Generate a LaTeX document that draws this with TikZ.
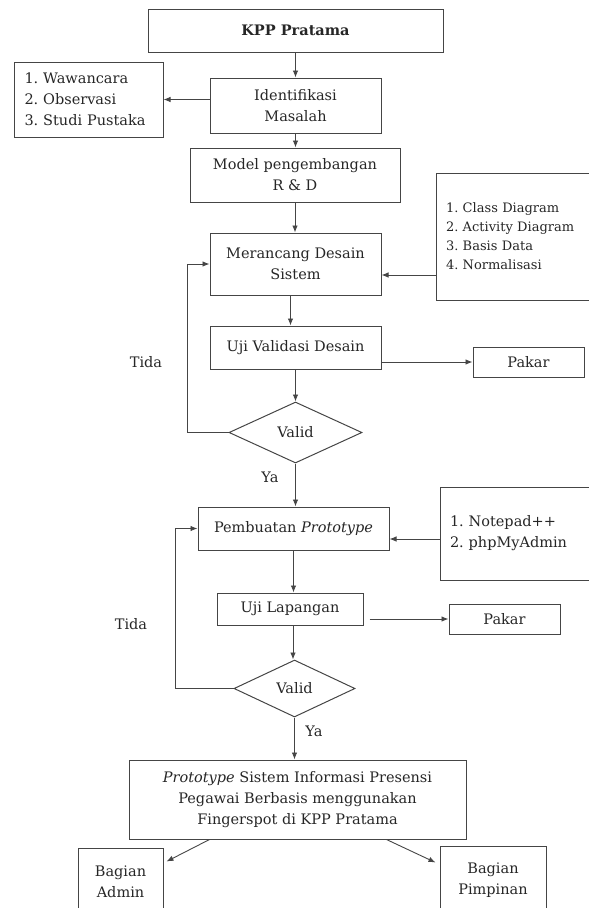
\documentclass[tikz,border=0pt]{standalone}
\usepackage{fontspec}
\setmainfont{DejaVu Serif}
\usetikzlibrary{shapes.geometric,arrows.meta,calc}
\definecolor{ln}{HTML}{454545}
\definecolor{tx}{HTML}{262626}
\frenchspacing
\begin{document}
\begin{tikzpicture}[x=1pt,y=-1pt,
  every node/.style={font=\fontsize{14.5}{21}\selectfont,text=tx},
  bx/.style={draw=ln,line width=1pt,inner sep=0pt,align=center},
  lst/.style={draw=ln,line width=1pt,inner xsep=10pt,inner ysep=0pt,align=left},
  dm/.style={draw=ln,line width=1pt,diamond,inner sep=0pt},
  ar/.style={draw=ln,line width=0.9pt,-{Latex[length=7pt,width=5.5pt]}}]
\useasboundingbox (0,0) rectangle (589,908);
\begin{scope}
\clip (0,0) rectangle (589,908);
\node[bx,minimum width=295pt,minimum height=43pt] (kpp) at (295.5,30.5) {\textbf{KPP Pratama}};
\node[bx,minimum width=171pt,minimum height=55pt] (ident) at (295.5,105.5) {Identifikasi\\Masalah};
\node[lst,minimum width=149pt,minimum height=75pt,text width=128pt] (listl) at (88.5,99.5) {1. Wawancara\\2. Observasi\\3. Studi Pustaka};
\node[bx,minimum width=210pt,minimum height=54pt] (model) at (295,175) {Model pengembangan\\R \& D};
\node[bx,minimum width=171pt,minimum height=62pt] (mer) at (295.5,264) {Merancang Desain\\Sistem};
\node[lst,minimum width=164pt,minimum height=127pt,text width=144pt,font=\fontsize{13}{19}\selectfont] (listr1) at (518,236.5) {1. Class Diagram\\2. Activity Diagram\\3. Basis Data\\4. Normalisasi};
\node[bx,minimum width=171pt,minimum height=43pt] (uji) at (295.5,347.5) {Uji Validasi Desain};
\node[bx,minimum width=111pt,minimum height=30pt] (pakar1) at (528.5,362) {Pakar};
\node[dm,minimum width=133pt,minimum height=61pt] (valid1) at (295.5,432.5) {Valid};
\node[bx,minimum width=191pt,minimum height=43pt] (pemb) at (293.5,528.5) {Pembuatan \textit{Prototype}};
\node[lst,minimum width=160pt,minimum height=93pt,text width=140pt] (listr2) at (520,533.5) {1. Notepad++\\2. phpMyAdmin};
\node[bx,minimum width=146pt,minimum height=32pt] (ujilap) at (290,609) {Uji Lapangan};
\node[bx,minimum width=111pt,minimum height=30pt] (pakar2) at (504.5,619) {Pakar};
\node[dm,minimum width=121pt,minimum height=57pt] (valid2) at (294.5,688.5) {Valid};
\node[bx,minimum width=337pt,minimum height=79pt] (final) at (297.5,799.5) {\textit{Prototype} Sistem Informasi Presensi\\Pegawai Berbasis menggunakan\\Fingerspot di KPP Pratama};
\node[bx,minimum width=85pt,minimum height=67pt] (admin) at (120.5,881.5) {Bagian\\Admin};
\node[bx,minimum width=106pt,minimum height=69pt] (pimp) at (493,880.5) {Bagian\\Pimpinan};
\end{scope}
\node (tida1) at (146,362) {Tida};
\node (tida2) at (131,624) {Tida};
\node (ya1) at (270,477) {Ya};
\node (ya2) at (314,731) {Ya};
\coordinate (r1) at (0,275);
\coordinate (r2) at (0,539);
\coordinate (l1) at (187,0);
\coordinate (l2) at (175,0);
\coordinate (m1) at ($(mer.south)+(-5,0)$);
\coordinate (u2) at ($(ujilap.south)+(3,0)$);
\coordinate (p2) at ($(ujilap.east |- pakar2.west)+(6,0)$);
% connectors
\draw[ar] (kpp.south) -- (kpp.south |- ident.north);
\draw[ar] (ident.west |- listl.east) -- (listl.east);
\draw[ar] (ident.south) -- (ident.south |- model.north);
\draw[ar] (model.south) -- (model.south |- mer.north);
\draw[ar] (listr1.west |- r1) -- (mer.east |- r1);
\draw[ar] (m1) -- (m1 |- uji.north);
\draw[ar] (uji.east |- pakar1.west) -- (pakar1.west);
\draw[ar] (uji.south) -- (valid1.north);
\draw[ar] (valid1.west) -- (valid1.west -| l1) -- (mer.west -| l1) -- (mer.west);
\draw[ar] (valid1.south) -- (valid1.south |- pemb.north);
\draw[ar] (listr2.west |- r2) -- (pemb.east |- r2);
\draw[ar] (pemb.south) -- (pemb.south |- ujilap.north);
\draw[ar] (p2) -- (pakar2.west);
\draw[ar] (u2) -- (u2 |- valid2.north);
\draw[ar] (valid2.west) -- (valid2.west -| l2) -- (pemb.west -| l2) -- (pemb.west);
\draw[ar] (valid2.south) -- (valid2.south |- final.north);
\draw[ar] ($(final.south west)+(81,0)$) -- ($(admin.north east)+(3,14)$);
\draw[ar] ($(final.south west)+(258,0)$) -- ($(pimp.north west)+(-4,17)$);
\end{tikzpicture}
\end{document}
